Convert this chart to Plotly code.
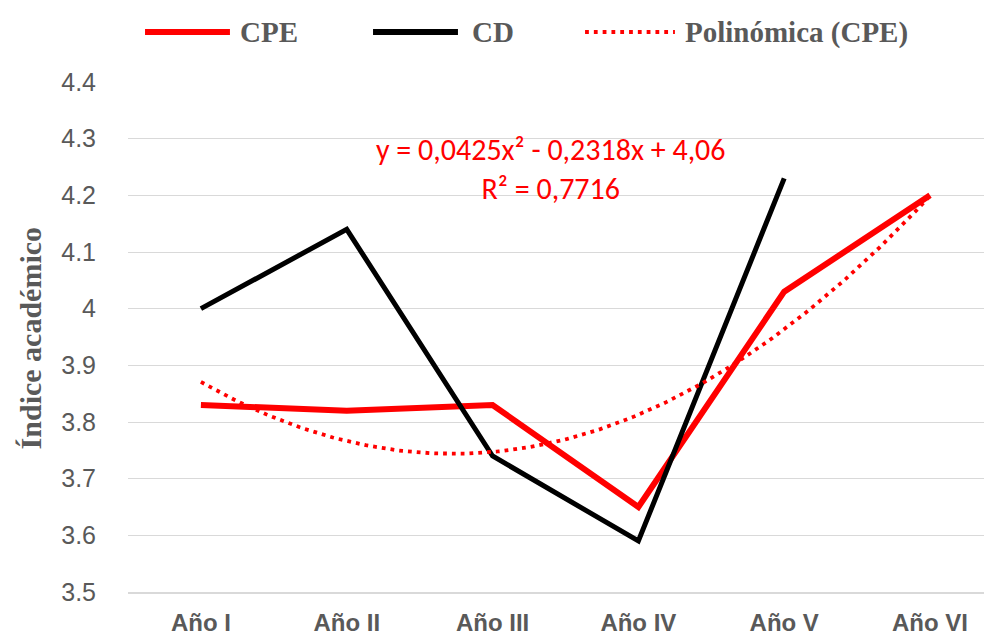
import numpy as np
import plotly.graph_objects as go

categories = ["Año I", "Año II", "Año III", "Año IV", "Año V", "Año VI"]
cpe = [3.83, 3.82, 3.83, 3.65, 4.03, 4.20]
cd = [4.00, 4.14, 3.74, 3.59, 4.23, None]
# Polynomial trend coefficients shown on the chart (for CPE)
poly_a, poly_b, poly_c = 0.0425, -0.2318, 4.06
y_ticks = [3.5, 3.6, 3.7, 3.8, 3.9, 4.0, 4.1, 4.2, 4.3, 4.4]
y_ticktext = ["3.5", "3.6", "3.7", "3.8", "3.9", "4", "4.1", "4.2", "4.3", "4.4"]
legend_names = ["CPE", "CD", "Polinómica (CPE)"]

xpos = list(range(1, len(categories) + 1))
xt = np.linspace(1, 6, 200)
yt = poly_a * xt**2 + poly_b * xt + poly_c

RED = "#ff0000"
GREY = "#595959"
DOT = dict(color=RED, width=3.8, dash="3.8px,5px")

fig = go.Figure()
fig.add_trace(go.Scatter(x=xpos, y=cpe, mode="lines", name=legend_names[0],
                         line=dict(color=RED, width=6)))
fig.add_trace(go.Scatter(x=xpos, y=cd, mode="lines", name=legend_names[1],
                         line=dict(color="#000000", width=5)))
fig.add_trace(go.Scatter(x=xt, y=yt, mode="lines", name=legend_names[2], line=DOT))

# equation annotation
fig.add_annotation(x=3.40, y=4.247, xref="x", yref="y",
                   text="y = 0,0425x² - 0,2318x + 4,06<br>R² = 0,7716",
                   showarrow=False, align="center",
                   font=dict(family="Carlito, Liberation Sans, Arial", size=30, color=RED))

# custom legend (top)
leg_y = 1.098
leg_items = [
    (0.0197, 0.118, 0.1273, dict(color=RED, width=6)),
    (0.2836, 0.3819, 0.3958, dict(color="#000000", width=6)),
    (0.529, 0.633, 0.6424, DOT),
]
for name, (x0, x1, xtx, ln) in zip(legend_names, leg_items):
    fig.add_shape(type="line", xref="paper", yref="paper", x0=x0, x1=x1, y0=leg_y, y1=leg_y,
                  line=ln)
    fig.add_annotation(x=xtx, y=leg_y, xref="paper", yref="paper", xanchor="left", yanchor="middle",
                       text="<b>%s</b>" % name, showarrow=False,
                       font=dict(family="Liberation Serif, Times New Roman", size=29, color=GREY))

# y-axis title
fig.add_annotation(x=-0.113, y=0.498, xref="paper", yref="paper", textangle=-90,
                   text="<b>Índice académico</b>", showarrow=False,
                   xanchor="center", yanchor="middle",
                   font=dict(family="Liberation Serif, Times New Roman", size=30, color=GREY))

fig.update_layout(
    width=992, height=637,
    margin=dict(l=120, r=8, t=74, b=53, autoexpand=False),
    plot_bgcolor="white", paper_bgcolor="white",
    showlegend=False,
    xaxis=dict(range=[0.5, 6.425], tickvals=xpos, ticktext=["<b>%s</b>" % c for c in categories],
               showgrid=False, zeroline=False, showline=True, linecolor="#d9d9d9", linewidth=1.5,
               ticks="outside", ticklen=8, tickcolor="rgba(0,0,0,0)",
               tickfont=dict(family="Liberation Sans Narrow, Arial Narrow, Liberation Sans", size=24, color=GREY)),
    yaxis=dict(range=[3.5, 4.4], tickvals=y_ticks, ticktext=y_ticktext,
               showgrid=True, gridcolor="#d9d9d9", gridwidth=1, zeroline=False, showline=False,
               ticks="outside", ticklen=26, tickcolor="rgba(0,0,0,0)",
               tickfont=dict(family="Liberation Sans, Arial", size=25, color=GREY)),
)

fig.write_html("out.html")
